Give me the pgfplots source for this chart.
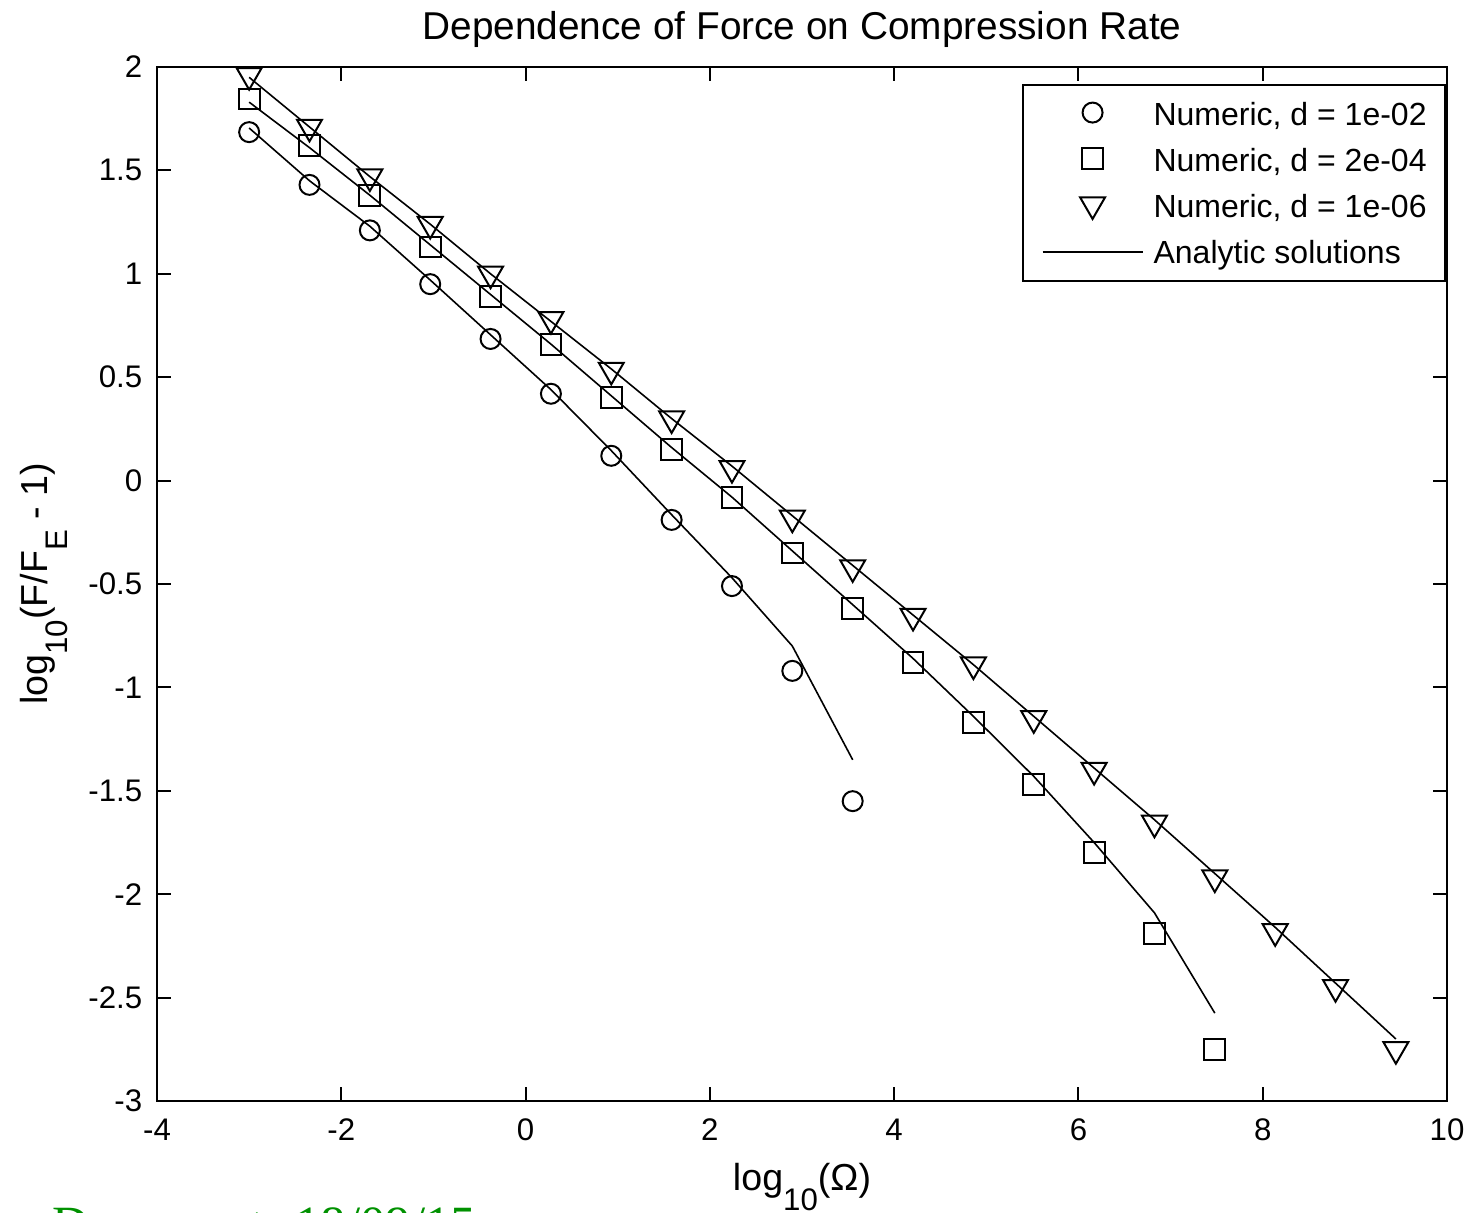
\documentclass[border=0pt]{standalone}
\usepackage{fontspec}
\setmainfont{Liberation Sans}
\newfontfamily\stampfont{Liberation Serif}
\usepackage{pgfplots}
\pgfplotsset{compat=1.18}
\definecolor{stampgreen}{RGB}{0,145,0}

% numeric results, one table per d
\pgfplotstableread{
x y
-3.000 1.685
-2.345 1.43
-1.690 1.21
-1.035 0.95
-0.380 0.685
0.275 0.42
0.930 0.12
1.585 -0.19
2.240 -0.51
2.895 -0.92
3.550 -1.55
}\numA
\pgfplotstableread{
x y
-3.000 1.845
-2.345 1.62
-1.690 1.38
-1.035 1.13
-0.380 0.89
0.275 0.66
0.930 0.40
1.585 0.15
2.240 -0.08
2.895 -0.35
3.550 -0.62
4.205 -0.88
4.860 -1.17
5.515 -1.47
6.170 -1.80
6.825 -2.19
7.480 -2.75
}\numB
\pgfplotstableread{
x y
-3.000 1.96
-2.345 1.71
-1.690 1.47
-1.035 1.24
-0.380 1.00
0.275 0.78
0.930 0.535
1.585 0.30
2.240 0.06
2.895 -0.18
3.550 -0.42
4.205 -0.655
4.860 -0.89
5.515 -1.15
6.170 -1.40
6.825 -1.655
7.480 -1.92
8.135 -2.18
8.790 -2.45
9.445 -2.75
}\numC
% analytic curves
\pgfplotstableread{
x y
-3.000 1.705
-2.345 1.45
-1.690 1.23
-1.035 0.97
-0.380 0.705
0.275 0.44
0.930 0.145
1.585 -0.165
2.240 -0.47
2.895 -0.80
3.550 -1.35
}\anaA
\pgfplotstableread{
x y
-3.000 1.83
-2.345 1.61
-1.690 1.38
-1.035 1.14
-0.380 0.90
0.275 0.66
0.930 0.41
1.585 0.16
2.240 -0.08
2.895 -0.34
3.550 -0.60
4.205 -0.86
4.860 -1.14
5.515 -1.43
6.170 -1.75
6.825 -2.09
7.480 -2.575
}\anaB
\pgfplotstableread{
x y
-3.000 1.95
-2.345 1.71
-1.690 1.47
-1.035 1.24
-0.380 1.00
0.275 0.77
0.930 0.54
1.585 0.30
2.240 0.07
2.895 -0.17
3.550 -0.41
4.205 -0.65
4.860 -0.89
5.515 -1.14
6.170 -1.39
6.825 -1.64
7.480 -1.90
8.135 -2.16
8.790 -2.43
9.445 -2.70
}\anaC

\pgfplotsset{
  markleg/.style={legend image code/.code={
    \path (0pt,0pt) (25pt,0pt);
    \draw[##1] plot coordinates {(12.5pt,0.4pt)};}},
  lineleg/.style={legend image code/.code={
    \draw[##1] (0pt,0pt) -- (25pt,0pt);}},
}

\begin{document}
\begin{tikzpicture}
\begin{axis}[
  name=ax,
  scale only axis, width=322.5pt, height=258.5pt,
  xmin=-4, xmax=10, ymin=-3, ymax=2,
  xtick={-4,-2,0,2,4,6,8,10},
  ytick={-3,-2.5,-2,-1.5,-1,-0.5,0,0.5,1,1.5,2},
  tick align=inside, major tick length=3.5pt,
  every tick/.style={black, line width=0.5pt},
  axis line style={line width=0.5pt},
  /pgf/number format/assume math mode=true,
  tick label style={font=\fontsize{7.8}{9}\selectfont},
  xticklabel style={anchor=base, yshift=-9.75pt, inner sep=0pt},
  yticklabel style={anchor=east, xshift=-3.5pt, inner sep=0pt},
  title={Dependence of Force on Compression Rate},
  title style={at={(0.5,1)}, anchor=base, yshift=0.75pt, inner sep=0pt,
    font=\fontsize{9.7}{11}\selectfont},
  xlabel={log\raisebox{-5.1pt}{\fontsize{7.8}{9}\selectfont 10}(Ω)},
  xlabel style={at={(axis description cs:0.5,0)}, anchor=base, yshift=-22.25pt,
    inner sep=0pt, font=\fontsize{9.4}{11}\selectfont},
  ylabel={log\raisebox{-5.1pt}{\fontsize{7.8}{9}\selectfont 10}(F/F\raisebox{-5.1pt}{\fontsize{7.8}{9}\selectfont E} - 1)},
  ylabel style={at={(axis description cs:-0.08527,0.5)}, anchor=base,
    inner sep=0pt, font=\fontsize{9.4}{11}\selectfont},
  legend style={at={(0.9992,0.9836)}, anchor=north east, draw=black,
    line width=0.5pt, font=\fontsize{8}{9.6}\selectfont,
    inner xsep=4.6pt, inner ysep=2.5pt, row sep=1.9pt, column sep=2.5pt,
    nodes={inner sep=0pt, text height=7.6pt, text depth=2pt}},
  legend cell align=left,
]
\addplot[only marks, mark=o, mark size=2.5pt, line width=0.5pt, black, markleg] table {\numA};
\addlegendentry{Numeric, d = 1e-02}
\addplot[only marks, mark=square, mark size=2.6pt, line width=0.5pt, black, markleg] table {\numB};
\addlegendentry{Numeric, d = 2e-04}
\addplot[only marks, mark=triangle, mark size=3.6pt, mark options={rotate=180},
  line width=0.5pt, black, markleg] table {\numC};
\addlegendentry{Numeric, d = 1e-06}
\addplot[no marks, line width=0.4pt, black, lineleg] table {\anaA};
\addlegendentry{Analytic solutions}
\addplot[no marks, line width=0.4pt, black, forget plot] table {\anaB};
\addplot[no marks, line width=0.4pt, black, forget plot] table {\anaC};
\end{axis}
\node[anchor=base west, inner sep=0pt, text=stampgreen,
  font=\stampfont\fontsize{12.7}{15}\selectfont]
  at ([shift={(-26.25pt,-35.0pt)}]ax.south west) {Document: 18/09/15};
\pgfresetboundingbox
\path[use as bounding box] ([shift={(-39.25pt,-27.75pt)}]ax.south west)
  rectangle ([shift={(8.75pt,16.75pt)}]ax.north east);
\end{tikzpicture}
\end{document}
